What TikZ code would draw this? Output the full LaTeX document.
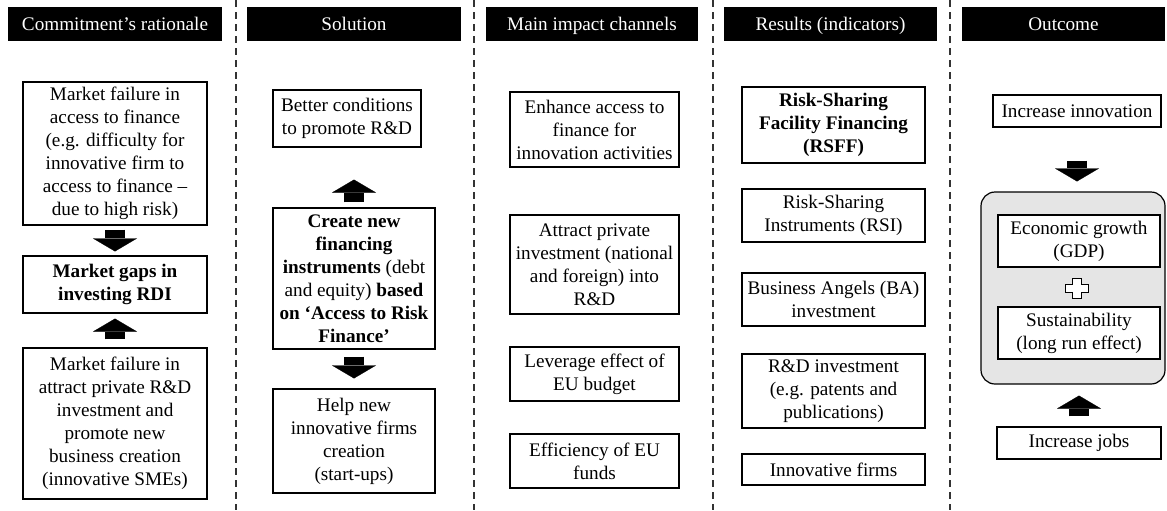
\documentclass[tikz,border=0pt]{standalone}
\usepackage{fontspec}
\setmainfont{Liberation Serif}
\usetikzlibrary{arrows.meta,positioning}

\begin{document}
\begin{tikzpicture}[x=0.5pt,y=-0.5pt,
    every node/.style={font=\fontsize{9.6}{11.5}\selectfont,align=center,inner sep=1.5pt},
    box/.style={draw,line width=0.6pt,fill=white},
    hdr/.style={fill=black,text=white,minimum height=17pt,text height=8pt,text depth=1.5pt},
    blockarr/.style={line width=10pt,-{Triangle[width=22pt,length=6.5pt,line width=0.1pt]}},
    sep/.style={draw=black!80,line width=0.6pt,dash pattern=on 3.5pt off 2.5pt}]
      \useasboundingbox (0,0) rectangle (1167,510);
      % column heads
      \node (H1) [hdr,minimum width=107pt] at (115,24) {Commitment’s rationale};
      \node (H2) [hdr,minimum width=107pt] at (354,24) {Solution};
      \node (H3) [hdr,minimum width=106pt] at (592,24) {Main impact channels};
      \node (H4) [hdr,minimum width=106.5pt] at (830.5,24) {Results (indicators)};
      \node (H5) [hdr,minimum width=101.5pt] at (1063.5,24) {Outcome};
      \draw[sep] (236,0) -- (236,510);
      \draw[sep] (474,0) -- (474,510);
      \draw[sep] (713,0) -- (713,510);
      \draw[sep] (950,0) -- (950,510);
      % rationale
      \node (RA) [box,minimum width=92pt,minimum height=71.5pt] at (115,153.5)
        {Market failure in\\access to finance\\(e.g. difficulty for\\innovative firm to\\access to finance --\\due to high risk)};
      \node (RB) [box,minimum width=92pt,minimum height=28.5pt] at (115,284.5)
        {\textbf{Market gaps in}\\\textbf{investing RDI}};
      \node (RC) [box,minimum width=92pt,minimum height=75.5pt] at (115,423.5)
        {Market failure in\\attract private R\&D\\investment and\\promote new\\business creation\\(innovative SMEs)};
      % solution
      \node (SA) [box,minimum width=74pt,minimum height=28.5pt] at (347,118.5)
        {Better conditions\\to promote R\&D};
      \node (SB) [box,minimum width=81pt,minimum height=70.5pt] at (354,278.5)
        {\textbf{Create new}\\\textbf{financing}\\\textbf{instruments} (debt\\and equity) \textbf{based}\\\textbf{on `Access to Risk}\\\textbf{Finance'}};
      \node (SC) [box,minimum width=81pt,minimum height=52pt] at (354,441)
        {Help new\\innovative firms\\creation\\(start-ups)};
      % impact channels
      \node (CA) [box,minimum width=84.5pt,minimum height=37.5pt] at (594.5,129.5)
        {Enhance access to\\finance for\\innovation activities};
      \node (CB) [box,minimum width=84.5pt,minimum height=49.5pt] at (594.5,264.5)
        {Attract private\\investment (national\\and foreign) into\\R\&D};
      \node (CC) [box,minimum width=84.5pt,minimum height=27pt] at (594.5,374)
        {Leverage effect of\\EU budget};
      \node (CD) [box,minimum width=84.5pt,minimum height=27pt] at (594.5,461)
        {Efficiency of EU\\funds};
      % results
      \node (DA) [box,minimum width=91.5pt,minimum height=38pt] at (833.5,125)
        {\textbf{Risk-Sharing}\\\textbf{Facility Financing}\\\textbf{(RSFF)}};
      \node (DB) [box,minimum width=91.5pt,minimum height=26.5pt] at (833.5,215.5)
        {Risk-Sharing\\Instruments (RSI)};
      \node (DC) [box,minimum width=91.5pt,minimum height=26.5pt] at (833.5,299.5)
        {Business Angels (BA)\\investment};
      \node (DD) [box,minimum width=91.5pt,minimum height=37pt] at (833.5,391)
        {R\&D investment\\(e.g. patents and\\publications)};
      \node (DE) [box,minimum width=91.5pt,minimum height=15.5pt] at (833.5,469.5)
        {Innovative firms};
      % outcome
      \node (EA) [box,minimum width=84pt,minimum height=16pt] at (1077,111) {Increase innovation};
      \node (EG) [draw,line width=0.6pt,fill=black!10,rounded corners=7pt,
        minimum width=92pt,minimum height=96pt] at (1073,288) {};
      \node (EB) [box,minimum width=81pt,minimum height=26pt] at (1079,241)
        {Economic growth\\(GDP)};
      \node (EC) [box,minimum width=81pt,minimum height=26pt] at (1079,333)
        {Sustainability\\(long run effect)};
      \node (ED) [box,minimum width=82pt,minimum height=16pt] at (1079,443) {Increase jobs};
      \coordinate (plus) at (1077,288);
      \draw[fill=white,line width=0.5pt] (plus) ++(-4.5,-10) -- ++(9,0) -- ++(0,6) -- ++(7,0)
        -- ++(0,8) -- ++(-7,0) -- ++(0,6) -- ++(-9,0) -- ++(0,-6) -- ++(-7,0)
        -- ++(0,-8) -- ++(7,0) -- cycle;
      % block arrows
      \draw[blockarr,shorten <=2pt,shorten >=2pt] (RA) -- (RB);
      \draw[blockarr,shorten <=4pt,shorten >=2.5pt] (RC) -- (RB);
      \draw[blockarr,shorten <=2.5pt,shorten >=16pt] (SB.north) -- (SB.north |- SA.south);
      \draw[blockarr,shorten <=3.5pt,shorten >=5pt] (SB) -- (SC);
      \draw[blockarr,shorten <=16.5pt,shorten >=5pt] (EA.south) -- (EA.south |- EG.north);
      \draw[blockarr,shorten <=5pt,shorten >=5.5pt] (ED.north) -- (ED.north |- EG.south);
\end{tikzpicture}
\end{document}
